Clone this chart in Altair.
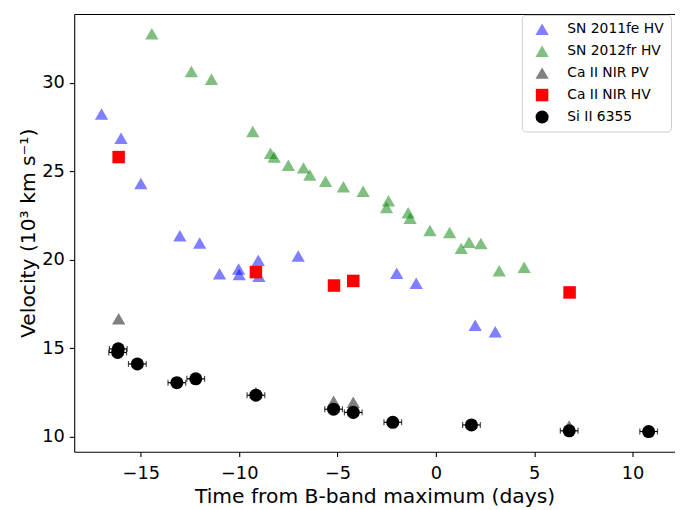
import altair as alt
import pandas as pd

# ---- data ----
# SN 2011fe HV (blue triangles)
fe_t = [-17.0, -16.01, -15.0, -13.02, -12.01, -11.0, -10.03, -10.0, -9.03, -9.0, -7.0, -1.99, -1.0, 2.0, 3.02]
fe_v = [28.24, 26.87, 24.32, 21.36, 20.95, 19.22, 19.48, 19.18, 19.98, 19.08, 20.22, 19.24, 18.68, 16.3, 15.94]

# SN 2012fr HV (green triangles)
fr_t = [-14.44, -12.43, -11.41, -9.31, -8.41, -8.22, -7.5, -6.73, -6.41, -5.61, -4.7, -3.7,
        -2.41, -2.51, -1.41, -1.31, -0.3, 0.7, 1.29, 1.69, 2.29, 3.22, 4.49]
fr_v = [32.78, 30.65, 30.21, 27.25, 26.02, 25.81, 25.35, 25.2, 24.8, 24.45, 24.13, 23.88,
        23.34, 22.96, 22.66, 22.35, 21.66, 21.55, 20.65, 21.0, 20.92, 19.39, 19.58]

# Ca II NIR PV (grey triangles)
pv_t = [-16.13, -9.15, -5.2, -4.2, 6.78]
pv_v = [16.67, 12.5, 12.01, 11.96, 10.61]

# Ca II NIR HV (red squares)
hv_t = [-16.13, -9.15, -5.18, -4.2, 6.8]
hv_v = [25.81, 19.31, 18.55, 18.81, 18.16]

# Si II 6355 (black circles with error bars)
si_t = [-16.15, -16.18, -15.18, -13.17, -12.21, -9.15, -5.2, -4.2, -2.19, 1.81, 6.78, 10.82]
si_v = [14.97, 14.77, 14.12, 13.06, 13.28, 12.35, 11.56, 11.38, 10.82, 10.67, 10.34, 10.30]
si_err = [0.45, 0.45, 0.45, 0.45, 0.45, 0.45, 0.45, 0.45, 0.45, 0.45, 0.45, 0.45]

series_names = ["SN 2011fe HV", "SN 2012fr HV", "Ca II NIR PV", "Ca II NIR HV", "Si II 6355"]
series_colors = ["#0000ff", "#008000", "#808080", "#ff0000", "#000000"]
series_shapes = ["triangle-up", "triangle-up", "triangle-up", "square", "circle"]
series_opacity = [0.5, 0.5, 1.0, 1.0, 1.0]
series_sizes = [180, 180, 180, 160, 175]

x_ticks = [-15, -10, -5, 0, 5, 10]
y_ticks = [10, 15, 20, 25, 30]

# ---- tables ----
rows = []
for name, ts, vs in zip(series_names, [fe_t, fr_t, pv_t, hv_t, si_t], [fe_v, fr_v, pv_v, hv_v, si_v]):
    for t, v in zip(ts, vs):
        rows.append({"t": t, "v": v, "series": name})
pts = pd.DataFrame(rows)

err = pd.DataFrame({"t": si_t, "v": si_v, "err": si_err})
err["lo"] = err["t"] - err["err"]
err["hi"] = err["t"] + err["err"]

FONT = "DejaVu Sans"
xs = alt.Scale(domain=[-18.39, 12.16], nice=False, zero=False)
ys = alt.Scale(domain=[9.16, 33.9], nice=False, zero=False)

top_spine = alt.Chart(pts).mark_point(opacity=0, size=1).encode(
    x=alt.X("t:Q", scale=xs, axis=alt.Axis(orient="top", labels=False, ticks=False, title=None, domain=True)),
    y=alt.Y("v:Q", scale=ys, axis=None),
)

bars = alt.Chart(err).mark_rule(color="black", strokeWidth=1.2).encode(
    x=alt.X("lo:Q", scale=xs, axis=None),
    x2="hi:Q",
    y=alt.Y("v:Q", scale=ys, axis=None),
)
caps_lo = alt.Chart(err).mark_tick(color="black", orient="vertical", size=6, thickness=1.2).encode(
    x=alt.X("lo:Q", scale=xs, axis=None),
    y=alt.Y("v:Q", scale=ys, axis=None),
)
caps_hi = alt.Chart(err).mark_tick(color="black", orient="vertical", size=6, thickness=1.2).encode(
    x=alt.X("hi:Q", scale=xs, axis=None),
    y=alt.Y("v:Q", scale=ys, axis=None),
)

points = alt.Chart(pts).mark_point(filled=True, strokeWidth=0).encode(
    x=alt.X("t:Q", scale=xs,
            axis=alt.Axis(orient="bottom", values=x_ticks, title="Time from B-band maximum (days)",
                          labelPadding=8, titlePadding=4)),
    y=alt.Y("v:Q", scale=ys,
            axis=alt.Axis(orient="left", values=y_ticks, title="Velocity (10³ km s⁻¹)",
                          labelPadding=5, titlePadding=3)),
    color=alt.Color("series:N", scale=alt.Scale(domain=series_names, range=series_colors),
                    legend=alt.Legend(title=None)),
    shape=alt.Shape("series:N", scale=alt.Scale(domain=series_names, range=series_shapes),
                    legend=alt.Legend(title=None)),
    opacity=alt.Opacity("series:N", scale=alt.Scale(type="ordinal", domain=series_names, range=series_opacity),
                        legend=alt.Legend(title=None)),
    size=alt.Size("series:N", scale=alt.Scale(type="ordinal", domain=series_names, range=series_sizes),
                  legend=alt.Legend(title=None)),
)

chart = alt.layer(top_spine, bars, caps_lo, caps_hi, points).resolve_axis(
    x="independent", y="independent"
).properties(
    width=608,
    height=443,
    autosize=alt.AutoSizeParams(type="none"),
    padding={"left": 67, "top": 3, "right": 0, "bottom": 55},
).configure_view(stroke=None).configure_axis(
    domainColor="black", tickColor="black", labelColor="black", titleColor="black",
    labelFont=FONT, titleFont=FONT, labelFontSize=18, titleFontSize=20.5, titleFontWeight="normal",
    tickSize=5, domainWidth=1.1, tickWidth=1.1, grid=False,
).configure_legend(
    orient="none", legendX=453, legendY=1, padding=7,
    strokeColor="#cccccc", cornerRadius=4, fillColor="rgba(255,255,255,0.8)",
    labelFont=FONT, labelFontSize=14, labelColor="black",
    symbolOffset=6, labelOffset=18, rowPadding=7.2,
)

chart.save("out.html", embed_options={"renderer": "svg", "actions": False})
